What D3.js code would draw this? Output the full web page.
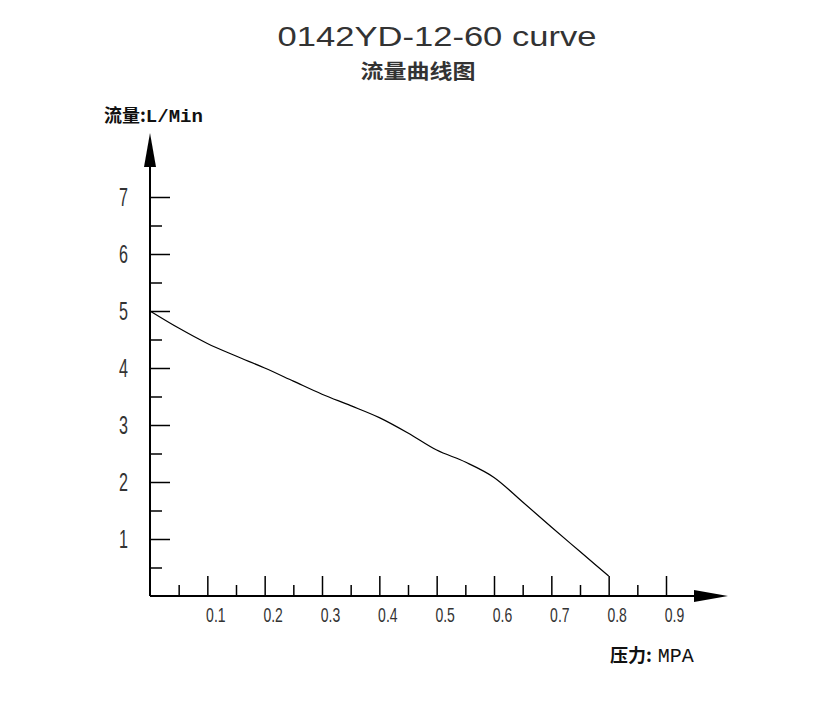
<!DOCTYPE html>
<html>
<head>
<meta charset="utf-8">
<script src="https://cdn.jsdelivr.net/npm/d3@7/dist/d3.min.js"></script>
<style>
  html, body { margin: 0; padding: 0; background: #fff; }
  svg { display: block; }
</style>
</head>
<body>
<svg id="chart" width="826" height="711"></svg>
<script>
// ---- data ----
const pressure = [0, 0.05, 0.1, 0.15, 0.2, 0.25, 0.3, 0.35, 0.4, 0.45, 0.5, 0.55, 0.6, 0.65, 0.7, 0.75, 0.8];
const flow     = [5.0, 4.7, 4.43, 4.21, 4.0, 3.77, 3.54, 3.34, 3.13, 2.86, 2.56, 2.35, 2.08, 1.65, 1.21, 0.78, 0.35];
const xMajorTicks = [0.1, 0.2, 0.3, 0.4, 0.5, 0.6, 0.7, 0.8, 0.9];
const xMinorTicks = [0.05, 0.15, 0.25, 0.35, 0.45, 0.55, 0.65, 0.75, 0.85];
const yMajorTicks = [1, 2, 3, 4, 5, 6, 7];
const yMinorTicks = [0.5, 1.5, 2.5, 3.5, 4.5, 5.5, 6.5];
const titleText = "0142YD-12-60 curve";
const subtitleText = "流量曲线图";
const yLabelCn = "流量:";
const yLabelUnit = "L/Min";
const xLabelCn = "压力:";
const xLabelUnit = "MPA";

const svg = d3.select("#chart");
const x = d3.scaleLinear().domain([0, 0.9]).range([150, 666]);
const y = d3.scaleLinear().domain([0, 7]).range([596, 197]);
const sans = "'Liberation Sans', Arial, sans-serif";

// title
svg.append("text")
  .attr("transform", "translate(437,46) scale(1.28,1)")
  .attr("text-anchor", "middle")
  .attr("font-family", sans)
  .attr("font-size", 27)
  .attr("fill", "#333")
  .text(titleText);
svg.append("text")
  .attr("transform", "translate(418,79) scale(1.15,1)")
  .attr("text-anchor", "middle")
  .attr("font-family", "'Noto Sans CJK SC', sans-serif")
  .attr("font-weight", "bold")
  .attr("font-size", 20)
  .attr("fill", "#333")
  .text(subtitleText);

// axes lines
svg.append("line").attr("x1", x(0)).attr("y1", y(0)).attr("x2", 700).attr("y2", y(0))
  .attr("stroke", "#000").attr("stroke-width", 2);
svg.append("line").attr("x1", x(0)).attr("y1", y(0)).attr("x2", x(0)).attr("y2", 160)
  .attr("stroke", "#000").attr("stroke-width", 2);
// arrows
svg.append("path").attr("d", `M${x(0)-6},167 L${x(0)},133 L${x(0)+6},167 Z`).attr("fill", "#000");
svg.append("path").attr("d", `M694,${y(0)-6} L728,${y(0)} L694,${y(0)+6} Z`).attr("fill", "#000");

function styleTicks(g) {
  g.select(".domain").remove();
  g.selectAll(".tick line").attr("stroke", "#000").attr("stroke-width", 1.5);
}

// y ticks
svg.append("g").attr("transform", `translate(${x(0)},0)`)
  .call(d3.axisRight(y).tickValues(yMajorTicks).tickSize(20).tickFormat(""))
  .call(styleTicks);
svg.append("g").attr("transform", `translate(${x(0)},0)`)
  .call(d3.axisRight(y).tickValues(yMinorTicks).tickSize(12).tickFormat(""))
  .call(styleTicks);
const yl = svg.append("g").attr("transform", `translate(${x(0)},0)`)
  .call(d3.axisLeft(y).tickValues(yMajorTicks).tickSize(0).tickPadding(22).tickFormat(d3.format("d")));
yl.select(".domain").remove();
yl.selectAll("text").attr("font-family", sans).attr("font-size", 26).attr("fill", "#333")
  .attr("x", 0).attr("transform", "translate(-22,0) scale(0.62,1)");

// x ticks
svg.append("g").attr("transform", `translate(0,${y(0)})`)
  .call(d3.axisTop(x).tickValues(xMajorTicks).tickSize(20).tickFormat(""))
  .call(styleTicks);
svg.append("g").attr("transform", `translate(0,${y(0)})`)
  .call(d3.axisTop(x).tickValues(xMinorTicks).tickSize(11).tickFormat(""))
  .call(styleTicks);
const xl = svg.append("g").attr("transform", `translate(0,${y(0)})`)
  .call(d3.axisBottom(x).tickValues(xMajorTicks).tickSize(0).tickPadding(12).tickFormat(d3.format(".1f")));
xl.select(".domain").remove();
xl.selectAll("text").attr("font-family", sans).attr("font-size", 20).attr("fill", "#333")
  .attr("transform", "translate(8,0) scale(0.7,1)");

// curve
const line = d3.line().x(d => x(d[0])).y(d => y(d[1])).curve(d3.curveMonotoneX);
svg.append("path").datum(pressure.map((p, i) => [p, flow[i]]))
  .attr("d", line).attr("fill", "none").attr("stroke", "#000").attr("stroke-width", 1.2);

// axis labels
const ylab = svg.append("text").attr("x", 104).attr("y", 122).attr("fill", "#111");
ylab.append("tspan").attr("font-family", "'Noto Sans CJK SC', sans-serif").attr("font-weight", "bold").attr("font-size", 18).text(yLabelCn);
ylab.append("tspan").attr("font-family", "'Liberation Mono', monospace").attr("font-weight", "bold").attr("font-size", 19).text(yLabelUnit);
const xlab = svg.append("text").attr("x", 610).attr("y", 662).attr("fill", "#111");
xlab.append("tspan").attr("font-family", "'Noto Sans CJK SC', sans-serif").attr("font-weight", "bold").attr("font-size", 18).text(xLabelCn);
xlab.append("tspan").attr("dx", 6).attr("font-family", "'Liberation Mono', monospace").attr("font-size", 20).text(xLabelUnit);
</script>
</body>
</html>
